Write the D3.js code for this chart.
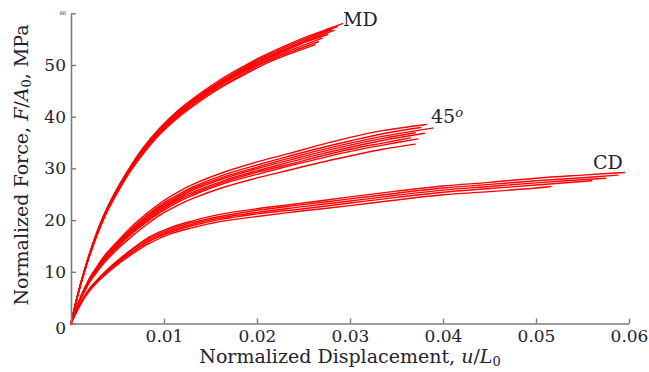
<!DOCTYPE html>
<html>
<head>
<meta charset="utf-8">
<script src="https://cdn.jsdelivr.net/npm/d3@7/dist/d3.min.js"></script>
<style>
  html, body { margin: 0; padding: 0; background: #fff; }
  svg { display: block; }
  text { font-family: "DejaVu Serif", "Liberation Serif", serif; fill: #1e2230; }
</style>
</head>
<body>
<svg id="chart" width="649" height="372"></svg>
<script>
// ---- data ----
const xTicks = [0.01, 0.02, 0.03, 0.04, 0.05, 0.06];
const xTickLabels = ["0.01", "0.02", "0.03", "0.04", "0.05", "0.06"];
const yTicks = [0, 10, 20, 30, 40, 50, 60];
const yTickLabels = ["0", "10", "20", "30", "40", "50", "60"];
const groupLabels = ["MD", "45", "CD"];

// MD specimens: [normalized displacement, normalized force (MPa)]
const mdCurves = [
  [[0,0],[0.0005,4.0],[0.001,7.5],[0.0015,10.7],[0.002,13.6],[0.003,18.7],[0.004,22.8],[0.0053,27.2],[0.0065,30.7],[0.0078,34.1],[0.0095,37.7],[0.0115,41.2],[0.0135,44.0],[0.016,47.1],[0.0185,49.7],[0.0205,51.6],[0.023,53.7],[0.0255,55.6],[0.028,57.2],[0.0292,58.0]],
  [[0,0],[0.0005,4.0],[0.001,7.5],[0.0015,10.6],[0.002,13.5],[0.003,18.6],[0.004,22.7],[0.0053,27.0],[0.0065,30.6],[0.0078,33.9],[0.0095,37.5],[0.0115,41.0],[0.0135,43.8],[0.016,46.8],[0.0185,49.4],[0.0205,51.4],[0.023,53.4],[0.0255,55.3],[0.0286,57.4]],
  [[0,0],[0.0005,3.9],[0.001,7.4],[0.0015,10.5],[0.002,13.5],[0.003,18.5],[0.004,22.6],[0.0053,26.9],[0.0065,30.4],[0.0078,33.8],[0.0095,37.4],[0.0115,40.8],[0.0135,43.6],[0.016,46.6],[0.0185,49.2],[0.0205,51.1],[0.023,53.1],[0.0255,55.0],[0.0280,56.8]],
  [[0,0],[0.0005,3.9],[0.001,7.4],[0.0015,10.5],[0.002,13.4],[0.003,18.4],[0.004,22.5],[0.0053,26.8],[0.0065,30.3],[0.0078,33.6],[0.0095,37.2],[0.0115,40.6],[0.0135,43.4],[0.016,46.4],[0.0185,49.0],[0.0205,50.9],[0.023,52.9],[0.0255,54.8],[0.0283,56.7]],
  [[0,0],[0.0005,3.9],[0.001,7.4],[0.0015,10.5],[0.002,13.3],[0.003,18.3],[0.004,22.4],[0.0053,26.7],[0.0065,30.2],[0.0078,33.4],[0.0095,37.0],[0.0115,40.4],[0.0135,43.2],[0.016,46.2],[0.0185,48.8],[0.0205,50.7],[0.023,52.7],[0.0255,54.6],[0.0276,55.9]],
  [[0,0],[0.0005,3.9],[0.001,7.3],[0.0015,10.4],[0.002,13.3],[0.003,18.2],[0.004,22.3],[0.0053,26.6],[0.0065,30.0],[0.0078,33.3],[0.0095,36.9],[0.0115,40.2],[0.0135,43.0],[0.016,46.0],[0.0185,48.6],[0.0205,50.4],[0.023,52.4],[0.0270,55.2]],
  [[0,0],[0.0005,3.8],[0.001,7.3],[0.0015,10.3],[0.002,13.2],[0.003,18.1],[0.004,22.2],[0.0053,26.4],[0.0065,29.9],[0.0078,33.1],[0.0095,36.7],[0.0115,40.0],[0.0135,42.8],[0.016,45.7],[0.0185,48.3],[0.0205,50.2],[0.023,52.1],[0.0266,54.5]],
  [[0,0],[0.0005,3.8],[0.001,7.3],[0.0015,10.3],[0.002,13.1],[0.003,18.0],[0.004,22.0],[0.0053,26.3],[0.0065,29.7],[0.0078,32.9],[0.0095,36.5],[0.0115,39.8],[0.0135,42.5],[0.016,45.5],[0.0185,48.0],[0.0205,49.9],[0.023,51.8],[0.0262,53.9]]
];

// 45 degree specimens
const deg45Curves = [
  [[0,0],[0.0005,2.7],[0.001,5.0],[0.0015,7.0],[0.002,8.8],[0.0026,10.5],[0.0035,12.9],[0.0049,15.7],[0.0065,18.7],[0.0081,21.2],[0.0096,23.3],[0.0115,25.4],[0.0131,26.9],[0.0165,29.3],[0.0203,31.4],[0.0235,32.9],[0.0267,34.5],[0.030,36.0],[0.0335,37.3],[0.0382,38.5]],
  [[0,0],[0.0005,2.7],[0.001,4.9],[0.0015,6.9],[0.002,8.7],[0.0026,10.3],[0.0035,12.7],[0.0049,15.5],[0.0065,18.3],[0.0081,20.8],[0.0096,22.9],[0.0115,24.9],[0.0131,26.4],[0.0165,28.8],[0.0203,30.8],[0.0235,32.4],[0.0267,33.9],[0.030,35.3],[0.0335,36.7],[0.0376,37.9]],
  [[0,0],[0.0005,2.6],[0.001,4.9],[0.0015,6.8],[0.002,8.6],[0.0026,10.2],[0.0035,12.5],[0.0049,15.3],[0.0065,18.1],[0.0081,20.6],[0.0096,22.6],[0.0115,24.6],[0.0131,26.1],[0.0165,28.4],[0.0203,30.4],[0.0235,32.0],[0.0267,33.5],[0.030,34.9],[0.0335,36.2],[0.0389,37.8]],
  [[0,0],[0.0005,2.6],[0.001,4.8],[0.0015,6.7],[0.002,8.5],[0.0026,10.1],[0.0035,12.4],[0.0049,15.1],[0.0065,17.9],[0.0081,20.3],[0.0096,22.3],[0.0115,24.3],[0.0131,25.8],[0.0165,28.1],[0.0203,30.1],[0.0235,31.6],[0.0267,33.1],[0.030,34.5],[0.0335,35.8],[0.0370,36.9]],
  [[0,0],[0.0005,2.6],[0.001,4.8],[0.0015,6.7],[0.002,8.4],[0.0026,9.9],[0.0035,12.2],[0.0049,14.9],[0.0065,17.7],[0.0081,20.1],[0.0096,22.1],[0.0115,24.1],[0.0131,25.4],[0.0165,27.7],[0.0203,29.7],[0.0235,31.2],[0.0267,32.7],[0.030,34.1],[0.0335,35.4],[0.0380,36.8]],
  [[0,0],[0.0005,2.6],[0.001,4.7],[0.0015,6.6],[0.002,8.3],[0.0026,9.8],[0.0035,12.1],[0.0049,14.7],[0.0065,17.5],[0.0081,19.8],[0.0096,21.8],[0.0115,23.8],[0.0131,25.1],[0.0165,27.4],[0.0203,29.4],[0.0235,30.8],[0.0267,32.3],[0.030,33.7],[0.0335,34.9],[0.0365,35.9]],
  [[0,0],[0.0005,2.5],[0.001,4.7],[0.0015,6.5],[0.002,8.2],[0.0026,9.7],[0.0035,11.9],[0.0049,14.6],[0.0065,17.3],[0.0081,19.6],[0.0096,21.5],[0.0115,23.5],[0.0131,24.8],[0.0165,27.1],[0.0203,29.0],[0.0235,30.5],[0.0267,31.9],[0.030,33.3],[0.0335,34.5],[0.0373,35.7]],
  [[0,0],[0.0005,2.5],[0.001,4.5],[0.0015,6.3],[0.002,8.0],[0.0026,9.5],[0.0035,11.6],[0.0049,14.2],[0.0065,16.8],[0.0081,19.1],[0.0096,21.0],[0.0115,22.9],[0.0131,24.2],[0.0165,26.4],[0.0203,28.3],[0.0235,29.7],[0.0267,31.1],[0.030,32.4],[0.0335,33.7],[0.0370,34.7]]
];

// CD specimens
const cdCurves = [
  [[0,0],[0.0005,2.1],[0.001,3.9],[0.0015,5.4],[0.002,6.8],[0.003,8.8],[0.004,10.6],[0.0053,12.6],[0.0067,14.6],[0.0085,16.8],[0.0106,18.5],[0.013,19.8],[0.016,21.1],[0.020,22.2],[0.025,23.3],[0.030,24.5],[0.035,25.6],[0.040,26.6],[0.045,27.3],[0.050,28.1],[0.055,28.7],[0.0595,29.2]],
  [[0,0],[0.0005,2.0],[0.001,3.8],[0.0015,5.4],[0.002,6.7],[0.003,8.7],[0.004,10.4],[0.0053,12.4],[0.0067,14.4],[0.0085,16.5],[0.0106,18.2],[0.013,19.5],[0.016,20.7],[0.020,21.9],[0.025,23.0],[0.030,24.1],[0.035,25.2],[0.040,26.2],[0.045,26.9],[0.050,27.6],[0.055,28.2],[0.0588,28.7]],
  [[0,0],[0.0005,2.0],[0.001,3.8],[0.0015,5.3],[0.002,6.6],[0.003,8.6],[0.004,10.3],[0.0053,12.3],[0.0067,14.1],[0.0085,16.2],[0.0106,17.9],[0.013,19.2],[0.016,20.4],[0.020,21.5],[0.025,22.6],[0.030,23.7],[0.035,24.8],[0.040,25.8],[0.045,26.5],[0.050,27.2],[0.0575,28.1]],
  [[0,0],[0.0005,2.0],[0.001,3.7],[0.0015,5.2],[0.002,6.5],[0.003,8.4],[0.004,10.1],[0.0053,12.1],[0.0067,13.9],[0.0085,16.0],[0.0106,17.6],[0.013,18.9],[0.016,20.1],[0.020,21.2],[0.025,22.2],[0.030,23.3],[0.035,24.4],[0.040,25.4],[0.045,26.1],[0.050,26.8],[0.0560,27.6]],
  [[0,0],[0.0005,1.9],[0.001,3.6],[0.0015,5.1],[0.002,6.3],[0.003,8.3],[0.004,9.9],[0.0053,11.8],[0.0067,13.6],[0.0085,15.6],[0.0106,17.3],[0.013,18.5],[0.016,19.7],[0.020,20.7],[0.025,21.8],[0.030,22.8],[0.035,23.9],[0.040,24.9],[0.045,25.5],[0.050,26.2],[0.0516,26.5]]
];

// ---- chart ----
const svg = d3.select("#chart");
const x = d3.scaleLinear().domain([0, 0.06]).range([71, 629]);
const y = d3.scaleLinear().domain([0, 60]).range([323.5, 13.3]);

const line = d3.line()
  .x(d => x(d[0]))
  .y(d => y(d[1]))
  .curve(d3.curveCatmullRom.alpha(0.5));

const allCurves = [].concat(mdCurves, deg45Curves, cdCurves);
svg.append("g")
  .selectAll("path")
  .data(allCurves)
  .join("path")
  .attr("d", line)
  .attr("fill", "none")
  .attr("stroke", "#ff0000")
  .attr("stroke-width", 1.4)
  .attr("stroke-linejoin", "round")
  .attr("stroke-linecap", "round");

// axes
const xAxis = d3.axisBottom(x)
  .tickValues(xTicks)
  .tickFormat((d, i) => xTickLabels[i])
  .tickSizeInner(-5)
  .tickSizeOuter(0)
  .tickPadding(6);
const yAxis = d3.axisLeft(y)
  .tickValues(yTicks)
  .tickFormat((d, i) => yTickLabels[i])
  .tickSizeInner(-5)
  .tickSizeOuter(0)
  .tickPadding(5);

const gx = svg.append("g").attr("transform", `translate(0,${y(0)})`).call(xAxis);
const gy = svg.append("g").attr("transform", `translate(${x(0)},0)`).call(yAxis);

[gx, gy].forEach(g => {
  g.select(".domain").attr("stroke", "#7a7a7a").attr("stroke-width", 1.6);
  g.selectAll(".tick line").attr("stroke", "#7a7a7a").attr("stroke-width", 1.4);
  g.selectAll(".tick text")
    .attr("font-family", "DejaVu Serif, Liberation Serif, serif")
    .attr("font-size", 17)
    .attr("fill", "#1e2230");
});
// tiny top label as in the reference
gy.selectAll(".tick text").filter(d => d === 60).attr("font-size", 5).attr("dy", "0.2em");
gy.selectAll(".tick text").filter(d => d === 0).attr("dy", "0.6em");

// axis titles
const xt = svg.append("text")
  .attr("x", 350).attr("y", 363)
  .attr("text-anchor", "middle")
  .attr("font-size", 19);
xt.append("tspan").text("Normalized Displacement, ");
xt.append("tspan").attr("font-style", "italic").text("u");
xt.append("tspan").text("/");
xt.append("tspan").attr("font-style", "italic").text("L");
xt.append("tspan").attr("font-size", 13).attr("baseline-shift", "-25%").text("0");

const yt = svg.append("text")
  .attr("transform", "translate(28,165) rotate(-90)")
  .attr("text-anchor", "middle")
  .attr("font-size", 19);
yt.append("tspan").text("Normalized Force, ");
yt.append("tspan").attr("font-style", "italic").text("F");
yt.append("tspan").text("/");
yt.append("tspan").attr("font-style", "italic").text("A");
yt.append("tspan").attr("font-size", 13).attr("baseline-shift", "-25%").text("0");
yt.append("tspan").text(", MPa");

// group labels
svg.append("text").attr("x", 343).attr("y", 26).attr("font-size", 19).text(groupLabels[0]);
const l45 = svg.append("text").attr("x", 431).attr("y", 123).attr("font-size", 19);
l45.append("tspan").text(groupLabels[1]);
l45.append("tspan").attr("font-size", 13).attr("font-style", "italic").attr("baseline-shift", "45%").text("o");
svg.append("text").attr("x", 593).attr("y", 169).attr("font-size", 19).text(groupLabels[2]);
</script>
</body>
</html>
